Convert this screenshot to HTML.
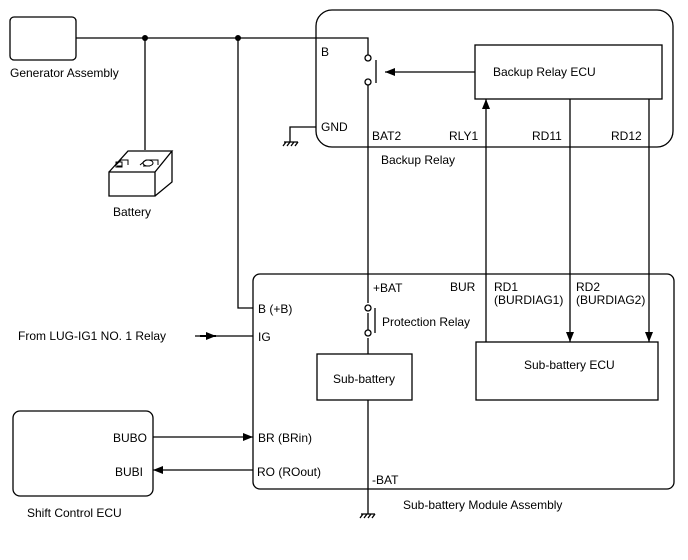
<!DOCTYPE html>
<html><head><style>body{margin:0;background:#fff}svg{display:block}text{font-family:"Liberation Sans",Arial,sans-serif;font-size:12px;fill:#000}</style></head><body>
<svg width="688" height="560" viewBox="0 0 688 560" xmlns="http://www.w3.org/2000/svg">
<defs><marker id="a" markerWidth="10" markerHeight="8" refX="10" refY="4" orient="auto" markerUnits="userSpaceOnUse"><path d="M0,0L10,4L0,8z" fill="#000"/></marker></defs>
<g fill="none" stroke="#000" stroke-width="1.3">
<rect x="10" y="17" width="66" height="43" rx="4"/>
<rect x="316" y="10" width="357" height="137" rx="16"/>
<rect x="475" y="45" width="187" height="54"/>
<rect x="253" y="274" width="421" height="215" rx="7"/>
<rect x="317" y="354" width="95" height="46"/>
<rect x="476" y="342" width="182" height="58"/>
<rect x="13" y="411" width="140" height="85" rx="7"/>
<path d="M76 38H368V55M368 85V303M368 313V330M368 338V354M368 400V514M145 38V150M238 38V308H253M316 127H290V142"/>
<circle cx="368" cy="58" r="3"/><circle cx="368" cy="82" r="3"/>
<path d="M376 60V83M375 308V333"/>
<circle cx="368" cy="308" r="3"/><circle cx="368" cy="333" r="3"/>
<path d="M475 72H385" marker-end="url(#a)"/>
<path d="M486 342V99" marker-end="url(#a)"/>
<path d="M570 99V342" marker-end="url(#a)"/>
<path d="M649 99V342" marker-end="url(#a)"/>
<path d="M195 336H253"/>
<path d="M200 336H216" marker-end="url(#a)" stroke-width="2"/>
<path d="M153 437H253" marker-end="url(#a)"/>
<path d="M253 470H153" marker-end="url(#a)"/>
<path d="M284 142H298M286 142l-3 4M290 142l-3 4M294 142l-3 4M298 142l-3 4"/>
<path d="M361 514H375M363 514l-3 4M367 514l-3 4M371 514l-3 4M375 514l-3 4"/>
<path d="M109 172H155V196H109ZM109 172L128 151H172L155 172M172 151V182L155 196"/>
<path d="M116 165L121 160H128V165M117 166H122M140 165L146 160H158V165M143 166H150" stroke-width="1"/>
<ellipse cx="148" cy="163" rx="5" ry="3" stroke-width="1"/>
<rect x="116" y="162" width="6" height="5" stroke-width="1"/>
</g>
<circle cx="145" cy="38" r="3" fill="#000"/><circle cx="238" cy="38" r="3" fill="#000"/>
<text x="10" y="77">Generator Assembly</text>
<text x="113" y="216">Battery</text>
<text x="321" y="56">B</text>
<text x="321" y="131">GND</text>
<text x="372" y="140">BAT2</text>
<text x="449" y="140">RLY1</text>
<text x="532" y="140">RD11</text>
<text x="611" y="140">RD12</text>
<text x="381" y="164">Backup Relay</text>
<text x="493" y="76">Backup Relay ECU</text>
<text x="373" y="292">+BAT</text>
<text x="450" y="291">BUR</text>
<text x="494" y="291">RD1</text><text x="494" y="304">(BURDIAG1)</text>
<text x="576" y="291">RD2</text><text x="576" y="304">(BURDIAG2)</text>
<text x="258" y="313">B (+B)</text>
<text x="258" y="341">IG</text>
<text x="382" y="326">Protection Relay</text>
<text x="333" y="383">Sub-battery</text>
<text x="524" y="369">Sub-battery ECU</text>
<text x="18" y="340">From LUG-IG1 NO. 1 Relay</text>
<text x="113" y="442">BUBO</text>
<text x="115" y="476">BUBI</text>
<text x="258" y="442">BR (BRin)</text>
<text x="257" y="476">RO (ROout)</text>
<text x="372" y="484">-BAT</text>
<text x="403" y="509">Sub-battery Module Assembly</text>
<text x="27" y="517">Shift Control ECU</text>
</svg>
</body></html>
